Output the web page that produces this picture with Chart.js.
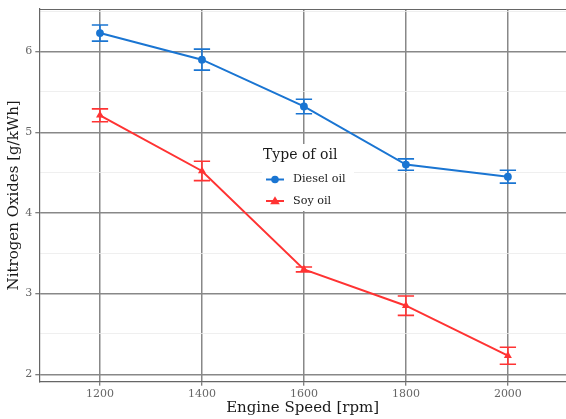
<!DOCTYPE html>
<html>
<head>
<meta charset="utf-8">
<script src="https://cdn.jsdelivr.net/npm/chart.js@4/dist/chart.umd.min.js"></script>
<style>
  html, body { margin: 0; padding: 0; background: #fff; }
  #wrap { width: 566px; height: 419px; position: relative; }
</style>
</head>
<body>
<div id="wrap"><canvas id="c" width="566" height="419"></canvas></div>
<script>
// ---- data ----
const speeds = [1200, 1400, 1600, 1800, 2000];
const dieselNOx = [6.23, 5.90, 5.32, 4.60, 4.45];
const dieselErr = [0.10, 0.13, 0.09, 0.07, 0.08];
const soyNOx = [5.21, 4.52, 3.30, 2.85, 2.23];
const soyErr = [0.08, 0.12, 0.03, 0.12, 0.105];
const yMajorTicks = [2, 3, 4, 5, 6];
const yMinorTicks = [2.5, 3.5, 4.5, 5.5, 6.5];
const xTicks = [1200, 1400, 1600, 1800, 2000];
const seriesNames = ['Diesel oil', 'Soy oil'];
const legendTitle = 'Type of oil';
const xTitle = 'Engine Speed [rpm]';
const yTitle = 'Nitrogen Oxides [g/kWh]';

const BLUE = '#1a75d2';
const RED = '#ff3333';
const SERIF = "'DejaVu Serif', serif";
const MAJOR = '#888888';
const MINOR = '#ebebeb';

const errSets = [
  { y: dieselNOx, e: dieselErr, color: BLUE },
  { y: soyNOx, e: soyErr, color: RED }
];

const errorBars = {
  id: 'errorBars',
  beforeDatasetsDraw(chart) {
    const { ctx, scales: { x, y } } = chart;
    ctx.save();
    ctx.lineWidth = 1.6;
    errSets.forEach(s => {
      ctx.strokeStyle = s.color;
      speeds.forEach((sp, i) => {
        const px = x.getPixelForValue(sp);
        const hi = y.getPixelForValue(s.y[i] + s.e[i]);
        const lo = y.getPixelForValue(s.y[i] - s.e[i]);
        const half = x.getPixelForValue(sp + 16) - px;
        ctx.beginPath();
        ctx.moveTo(px - half, hi); ctx.lineTo(px + half, hi);
        ctx.moveTo(px, hi); ctx.lineTo(px, lo);
        ctx.moveTo(px - half, lo); ctx.lineTo(px + half, lo);
        ctx.stroke();
      });
    });
    ctx.restore();
  }
};

const frame = {
  id: 'frame',
  afterDraw(chart) {
    const { ctx, chartArea: a } = chart;
    ctx.save();
    ctx.strokeStyle = '#666';
    ctx.lineWidth = 1.2;
    ctx.beginPath();
    ctx.moveTo(a.left, a.top + 0.5); ctx.lineTo(a.right, a.top + 0.5);
    ctx.stroke();
    // legend
    const bx = 262, by = 144, bw = 92, bh = 67;
    ctx.fillStyle = '#fff';
    ctx.fillRect(bx, by, bw, bh);
    ctx.fillStyle = '#1a1a1a';
    ctx.textBaseline = 'middle';
    ctx.textAlign = 'left';
    ctx.font = "14px " + SERIF;
    ctx.fillText(legendTitle, 263, 155);
    ctx.font = "11.2px " + SERIF;
    const rows = [
      { name: seriesNames[0], color: BLUE, y: 179.5, shape: 'circle' },
      { name: seriesNames[1], color: RED, y: 201, shape: 'triangle' }
    ];
    rows.forEach(r => {
      ctx.strokeStyle = r.color; ctx.fillStyle = r.color; ctx.lineWidth = 2;
      ctx.beginPath(); ctx.moveTo(266, r.y); ctx.lineTo(284, r.y); ctx.stroke();
      ctx.beginPath();
      if (r.shape === 'circle') {
        ctx.arc(275, r.y, 3.8, 0, Math.PI * 2);
      } else {
        ctx.moveTo(275, r.y - 4.8); ctx.lineTo(279.8, r.y + 3.2); ctx.lineTo(270.2, r.y + 3.2); ctx.closePath();
      }
      ctx.fill();
      ctx.fillStyle = '#1a1a1a';
      ctx.fillText(r.name, 293, r.y);
    });
    ctx.restore();
  }
};

new Chart(document.getElementById('c'), {
  type: 'line',
  data: {
    datasets: [
      {
        label: seriesNames[0],
        data: speeds.map((s, i) => ({ x: s, y: dieselNOx[i] })),
        borderColor: BLUE, backgroundColor: BLUE,
        borderWidth: 2, pointStyle: 'circle', pointRadius: 3.9,
        pointBorderWidth: 0, tension: 0
      },
      {
        label: seriesNames[1],
        data: speeds.map((s, i) => ({ x: s, y: soyNOx[i] })),
        borderColor: RED, backgroundColor: RED,
        borderWidth: 2, pointStyle: 'triangle', pointRadius: 4.6,
        pointBorderWidth: 0, tension: 0
      }
    ]
  },
  options: {
    responsive: false,
    animation: false,
    events: [],
    layout: { autoPadding: false, padding: { top: 9, right: 0, left: 0, bottom: 0 } },
    plugins: { legend: { display: false }, tooltip: { enabled: false } },
    scales: {
      x: {
        type: 'linear',
        min: 1081, max: 2114,
        afterBuildTicks: (s) => { s.ticks = xTicks.map(v => ({ value: v })); },
        afterFit: (s) => { s.height = 37.3; s.paddingLeft = 0; s.paddingRight = 0; },
        grid: { color: MAJOR, lineWidth: 1.5, tickLength: 4, tickColor: '#555', tickWidth: 1 },
        border: { display: true, color: '#666', width: 1.2 },
        ticks: { color: '#666', font: { family: SERIF, size: 11 }, padding: 2, maxRotation: 0, callback: v => String(v) },
        title: { display: true, text: xTitle, color: '#1a1a1a', font: { family: SERIF, size: 15 }, padding: { top: 0, bottom: 2 } }
      },
      y: {
        type: 'linear',
        min: 1.908, max: 6.528,
        afterBuildTicks: (s) => {
          s.ticks = yMajorTicks.concat(yMinorTicks).sort((a, b) => a - b).map(v => ({ value: v }));
        },
        afterFit: (s) => { s.width = 39.3; s.paddingTop = 0; s.paddingBottom = 0; },
        grid: {
          color: c => (yMajorTicks.includes(c.tick && c.tick.value) ? MAJOR : MINOR),
          lineWidth: c => (yMajorTicks.includes(c.tick && c.tick.value) ? 1.5 : 0.8),
          tickLength: 4,
          tickColor: c => (yMajorTicks.includes(c.tick && c.tick.value) ? '#555' : 'rgba(0,0,0,0)'),
          tickWidth: 1
        },
        border: { display: true, color: '#666', width: 1.2 },
        ticks: {
          color: '#666', font: { family: SERIF, size: 11 }, padding: 3,
          callback: v => (yMajorTicks.includes(v) ? String(v) : '')
        },
        title: { display: true, text: yTitle, color: '#1a1a1a', font: { family: SERIF, size: 15 }, padding: { top: 5, bottom: 0 } }
      }
    }
  },
  plugins: [errorBars, frame]
});
</script>
</body>
</html>
